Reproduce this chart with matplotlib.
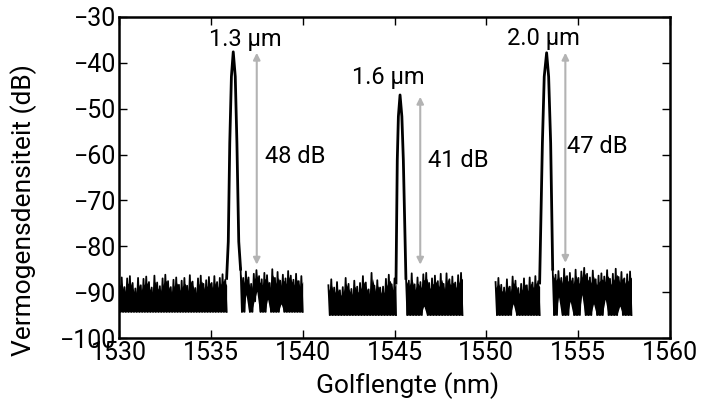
import numpy as np
import matplotlib
matplotlib.use("Agg")
import matplotlib.pyplot as plt

plt.rcParams['font.family'] = ['Roboto', 'DejaVu Sans']

# spectra (wavelength nm, power dB)
peak1_x = [1535.86, 1535.95, 1536.03, 1536.12, 1536.22, 1536.33, 1536.42, 1536.52, 1536.62]
peak1_y = [-87.0, -79.0, -57.5, -43.0, -37.6, -43.0, -57.5, -79.0, -85.0]
peak2_x = [1545.08, 1545.15, 1545.21, 1545.30, 1545.40, 1545.48, 1545.62]
peak2_y = [-88.0, -61.2, -51.7, -47.0, -51.7, -61.2, -87.0]
peak3_x = [1552.90, 1553.05, 1553.15, 1553.28, 1553.39, 1553.50, 1553.61]
peak3_y = [-88.0, -57.5, -43.0, -37.8, -43.0, -57.5, -85.0]

# noise floor: (start, end, upper envelope, lower envelope)
noise1a = (1530.0, 1535.86,
           [-87.5, -86.8, -88.9, -87.0, -86.5, -88.0, -89.2, -86.9, -88.5, -87.1, -86.6, -87.8,
            -89.0, -86.4, -87.9, -88.7, -87.0, -86.2, -87.6, -88.9, -87.3, -86.8, -88.4, -87.5,
            -86.9, -88.6, -86.3, -87.7, -89.1, -87.0, -86.4, -88.2, -87.4, -86.7, -88.0, -86.5,
            -87.8, -86.9, -86.1, -87.3],
           [-94.3] * 40)
noise1b = (1536.62, 1540.0,
           [-84.8, -86.9, -85.5, -86.8, -88.2, -86.0, -85.2, -86.5, -87.2, -85.8, -86.3, -88.0,
            -85.0, -86.9, -85.6, -87.5, -86.2, -87.0, -85.4, -86.4, -87.3, -86.0, -87.6, -86.5],
           [-94.3, -94.3, -90.5, -94.3, -94.3, -92.0, -89.8, -94.3, -94.3, -94.3, -91.5, -94.3,
            -94.3, -94.3, -94.3, -92.5, -94.3, -94.3, -94.3, -94.3, -94.3, -94.3, -94.3, -94.3])
noise2a = (1541.4, 1545.08,
           [-88.5, -87.2, -89.0, -87.8, -89.6, -88.9, -86.9, -88.2, -89.3, -87.5, -88.8, -88.0,
            -86.5, -87.9, -89.4, -85.8, -88.6, -87.4, -89.0, -88.8, -87.1, -86.2, -88.3, -87.0],
           [-95.0] * 24)
noise2b = (1545.62, 1548.7,
           [-86.2, -87.5, -85.9, -88.3, -86.8, -87.8, -86.1, -85.8, -88.0, -87.0, -86.4, -87.6,
            -86.0, -88.2, -85.9, -87.2, -86.6, -87.9, -86.3, -85.8],
           [-95.0, -95.0, -95.0, -95.0, -95.0, -95.0, -93.0, -95.0, -95.0, -95.0, -95.0, -95.0,
            -95.0, -95.0, -95.0, -95.0, -95.0, -95.0, -95.0, -95.0])
noise3a = (1550.5, 1552.90,
           [-87.8, -86.9, -88.4, -89.0, -87.2, -88.8, -86.6, -87.5, -89.1, -88.2, -87.0, -88.5,
            -86.8, -87.9, -86.5, -87.6],
           [-95.0, -95.0, -95.0, -95.0, -95.0, -95.0, -92.5, -95.0, -95.0, -95.0, -95.0, -95.0,
            -95.0, -95.0, -95.0, -95.0])
noise3b = (1553.61, 1557.9,
           [-85.0, -86.2, -85.4, -86.9, -84.9, -86.5, -85.8, -87.0, -85.1, -86.9, -85.5, -84.7,
            -86.0, -86.8, -85.3, -87.2, -86.4, -85.9, -86.6, -85.2, -87.1, -86.0, -84.9, -86.7,
            -85.6, -87.0, -86.1, -85.5],
           [-95.0, -95.0, -91.0, -95.0, -95.0, -95.0, -92.0, -95.0, -95.0, -95.0, -90.5, -95.0,
            -95.0, -95.0, -92.5, -95.0, -95.0, -95.0, -91.5, -95.0, -95.0, -95.0, -95.0, -93.0,
            -95.0, -95.0, -95.0, -95.0])

# peak labels and extinction arrows
labels = ["1.3 µm", "1.6 µm", "2.0 µm"]
label_x = [1536.9, 1544.65, 1553.1]
label_y = [-35.0, -43.3, -34.6]
arrow_x = [1537.5, 1546.4, 1554.3]
arrow_top = [-37.8, -47.4, -37.8]
arrow_bot = [-84.0, -84.0, -83.6]
db_text = ["48 dB", "41 dB", "47 dB"]
db_x = [1537.95, 1546.8, 1554.4]
db_y = [-60.5, -61.2, -58.3]

fig = plt.figure(figsize=(7.02, 4.0), dpi=100)
ax = fig.add_axes([0.1695, 0.155, 0.785, 0.8025])

for start, end, hi, lo in [noise1a, noise1b, noise2a, noise2b, noise3a, noise3b]:
    n = len(hi)
    # solid body of the noise band
    body_x = np.linspace(start, end, n)
    ax.fill_between(body_x, lo, np.array(hi) - 1.2, color='black', lw=0)
    # spiky zigzag between upper and lower readings
    xs = np.linspace(start, end, 2 * n)
    ys = np.empty(2 * n)
    ys[0::2] = hi
    ys[1::2] = lo
    ax.plot(xs, ys, color='black', lw=1.3)

for px, py in [(peak1_x, peak1_y), (peak2_x, peak2_y), (peak3_x, peak3_y)]:
    ax.plot(px, py, color='black', lw=2)

for i in range(3):
    ax.annotate("", xy=(arrow_x[i], arrow_top[i]), xytext=(arrow_x[i], arrow_bot[i]),
                arrowprops=dict(arrowstyle='<|-|>', color='#b3b3b3', lw=1.5, mutation_scale=10,
                                shrinkA=0, shrinkB=0))
    ax.text(label_x[i], label_y[i], labels[i], ha='center', va='center', fontsize=17)
    ax.text(db_x[i], db_y[i], db_text[i], ha='left', va='center', fontsize=17)

ax.set_xlim(1530, 1560)
ax.set_ylim(-100, -30)
ax.set_xticks(np.arange(1530, 1561, 5))
ax.set_yticks(np.arange(-100, -29, 10))
ax.tick_params(direction='in', top=True, right=True, length=6, width=1, labelsize=18, pad=2)
for s in ax.spines.values():
    s.set_linewidth(1.8)

ax.set_xlabel("Golflengte (nm)", fontsize=19)
ax.set_ylabel("Vermogensdensiteit (dB)", fontsize=19)
ax.xaxis.set_label_coords(0.523, -0.106)
ax.yaxis.set_label_coords(-0.149, 0.40)

fig.savefig("out.png", dpi=100)
